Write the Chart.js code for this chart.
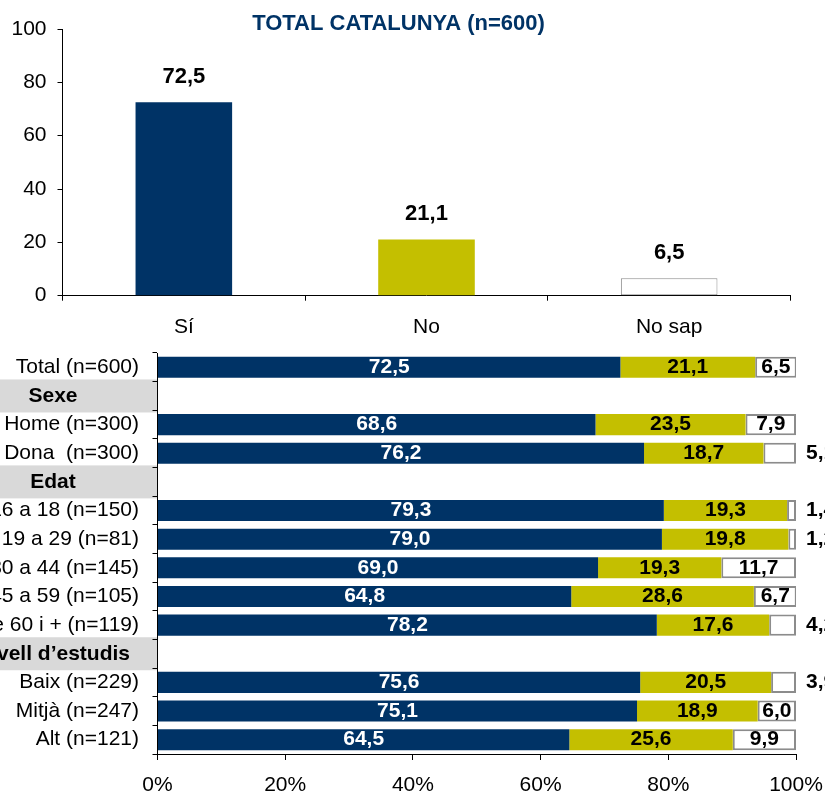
<!DOCTYPE html>
<html>
<head>
<meta charset="utf-8">
<script src="https://cdn.jsdelivr.net/npm/chart.js@4/dist/chart.umd.min.js"></script>
<style>
  body { margin: 0; background: #fff; }
  #wrap { position: relative; width: 825px; height: 795px; overflow: hidden; }
  canvas { position: absolute; left: 0; }
</style>
</head>
<body>
<div id="wrap">
  <canvas id="totalchart" width="825" height="345" style="top:0"></canvas>
  <canvas id="groupchart" width="825" height="455" style="top:340px"></canvas>
</div>
<script>
// data
var titleText = "TOTAL CATALUNYA (n=600)";
var totalCategories = ["Sí", "No", "No sap"];
var totalValues = [72.5, 21.1, 6.5];
var totalTicks = [0, 20, 40, 60, 80, 100];

var groupLabels = ["Total (n=600)", "Sexe", "Home (n=300)", "Dona  (n=300)", "Edat",
  "16 a 18 (n=150)", "19 a 29 (n=81)", "30 a 44 (n=145)", "45 a 59 (n=105)", "De 60 i + (n=119)",
  "Nivell d’estudis", "Baix (n=229)", "Mitjà (n=247)", "Alt (n=121)"];
var headerRows = ["Sexe", "Edat", "Nivell d’estudis"];
var siValues = [72.5, null, 68.6, 76.2, null, 79.3, 79.0, 69.0, 64.8, 78.2, null, 75.6, 75.1, 64.5];
var noValues = [21.1, null, 23.5, 18.7, null, 19.3, 19.8, 19.3, 28.6, 17.6, null, 20.5, 18.9, 25.6];
var nsValues = [6.5, null, 7.9, 5.1, null, 1.4, 1.2, 11.7, 6.7, 4.2, null, 3.9, 6.0, 9.9];
var percentTicks = [0, 20, 40, 60, 80, 100];

var NAVY = "#003366";
var OLIVE = "#c4bf00";
var FONT = "'Liberation Sans', Arial, sans-serif";

Chart.defaults.font.family = FONT;
Chart.defaults.color = "#000";

function fmt(v) { return v.toFixed(1).replace(".", ","); }
function noPad(s) { s.paddingTop = 0; s.paddingBottom = 0; s.paddingLeft = 0; s.paddingRight = 0; }

// top chart
var topLabels = {
  id: "topLabels",
  afterDatasetsDraw: function (chart) {
    var ctx = chart.ctx;
    ctx.save();
    ctx.fillStyle = "#000";
    ctx.font = "bold 22px " + FONT;
    ctx.textAlign = "center";
    ctx.textBaseline = "middle";
    chart.getDatasetMeta(0).data.forEach(function (bar, i) {
      ctx.fillText(fmt(totalValues[i]), bar.x, bar.y - 25);
    });
    ctx.fillStyle = NAVY;
    ctx.font = "bold 22px " + FONT;
    ctx.fillText(titleText, 398.5, 24);
    ctx.restore();
  }
};

new Chart(document.getElementById("totalchart"), {
  type: "bar",
  data: {
    labels: totalCategories,
    datasets: [{
      data: totalValues,
      backgroundColor: [NAVY, OLIVE, "#fff"],
      borderColor: [NAVY, OLIVE, "#8c8c8c"],
      borderWidth: [0, 0, 1],
      borderSkipped: false,
      categoryPercentage: 1,
      barPercentage: 0.398
    }]
  },
  options: {
    responsive: false,
    animation: false,
    layout: { padding: { top: 29, right: 34.5, left: 0, bottom: 0 } },
    plugins: { legend: { display: false }, tooltip: { enabled: false } },
    scales: {
      y: {
        min: 0, max: 100,
        afterBuildTicks: function (s) { s.ticks = totalTicks.map(function (v) { return { value: v }; }); },
        afterFit: function (s) { s.width = 62.5; noPad(s); },
        ticks: { font: { size: 21 }, padding: 11 },
        grid: { drawOnChartArea: false, tickLength: 5, color: "#000" },
        border: { color: "#000" }
      },
      x: {
        afterFit: function (s) { s.height = 49.3; noPad(s); },
        ticks: { font: { size: 21 }, padding: 14 },
        grid: { drawOnChartArea: false, tickLength: 5, color: "#000" },
        border: { color: "#000" }
      }
    }
  },
  plugins: [topLabels]
});

// bottom chart
var headerBands = {
  id: "headerBands",
  beforeDraw: function (chart) {
    var ctx = chart.ctx;
    var ys = chart.scales.y;
    ctx.save();
    groupLabels.forEach(function (lab, i) {
      if (headerRows.indexOf(lab) < 0) return;
      var y = ys.getPixelForValue(i);
      ctx.fillStyle = "#d9d9d9";
      ctx.fillRect(0, y - 16.5, ys.right, 33);
      ctx.fillStyle = "#000";
      ctx.font = "bold 21px " + FONT;
      ctx.textAlign = "center";
      ctx.textBaseline = "middle";
      ctx.fillText(lab, 53, y);
    });
    ctx.restore();
  }
};

var barLabels = {
  id: "barLabels",
  afterDatasetsDraw: function (chart) {
    var ctx = chart.ctx;
    ctx.save();
    ctx.font = "bold 21px " + FONT;
    ctx.textBaseline = "middle";
    chart.data.datasets.forEach(function (ds, d) {
      chart.getDatasetMeta(d).data.forEach(function (bar, i) {
        var v = ds.data[i];
        if (v === null) return;
        if (d === 2 && v < 6) {
          ctx.fillStyle = "#000";
          ctx.textAlign = "left";
          ctx.fillText(fmt(v), bar.x + 10, bar.y);
        } else {
          ctx.fillStyle = d === 0 ? "#fff" : "#000";
          ctx.textAlign = "center";
          ctx.fillText(fmt(v), (bar.x + bar.base) / 2, bar.y);
        }
      });
    });
    ctx.restore();
  }
};

new Chart(document.getElementById("groupchart"), {
  type: "bar",
  data: {
    labels: groupLabels,
    datasets: [
      { label: "Sí", data: siValues, backgroundColor: NAVY, borderWidth: 0 },
      { label: "No", data: noValues, backgroundColor: OLIVE, borderWidth: 0 },
      { label: "No sap", data: nsValues, backgroundColor: "#fff", borderColor: "#8c8c8c", borderWidth: 2, borderSkipped: false }
    ]
  },
  options: {
    indexAxis: "y",
    responsive: false,
    animation: false,
    categoryPercentage: 1,
    barPercentage: 0.735,
    layout: { padding: { top: 13, right: 29, left: 0, bottom: 0 } },
    plugins: { legend: { display: false }, tooltip: { enabled: false } },
    scales: {
      x: {
        stacked: true,
        min: 0, max: 100,
        afterBuildTicks: function (s) { s.ticks = percentTicks.map(function (v) { return { value: v }; }); },
        afterFit: function (s) { s.height = 41; noPad(s); },
        ticks: { font: { size: 21 }, padding: 13, callback: function (v) { return v + "%"; } },
        grid: { drawOnChartArea: false, tickLength: 6, color: "#000" },
        border: { color: "#000" }
      },
      y: {
        stacked: true,
        afterFit: function (s) { s.width = 157.5; noPad(s); },
        ticks: {
          font: { size: 21 }, padding: 13.5, autoSkip: false,
          callback: function (v, i) { var l = groupLabels[i]; return headerRows.indexOf(l) >= 0 ? "" : l; }
        },
        grid: { drawOnChartArea: false, tickLength: 5, color: "#000" },
        border: { color: "#000" }
      }
    }
  },
  plugins: [headerBands, barLabels]
});
</script>
</body>
</html>
